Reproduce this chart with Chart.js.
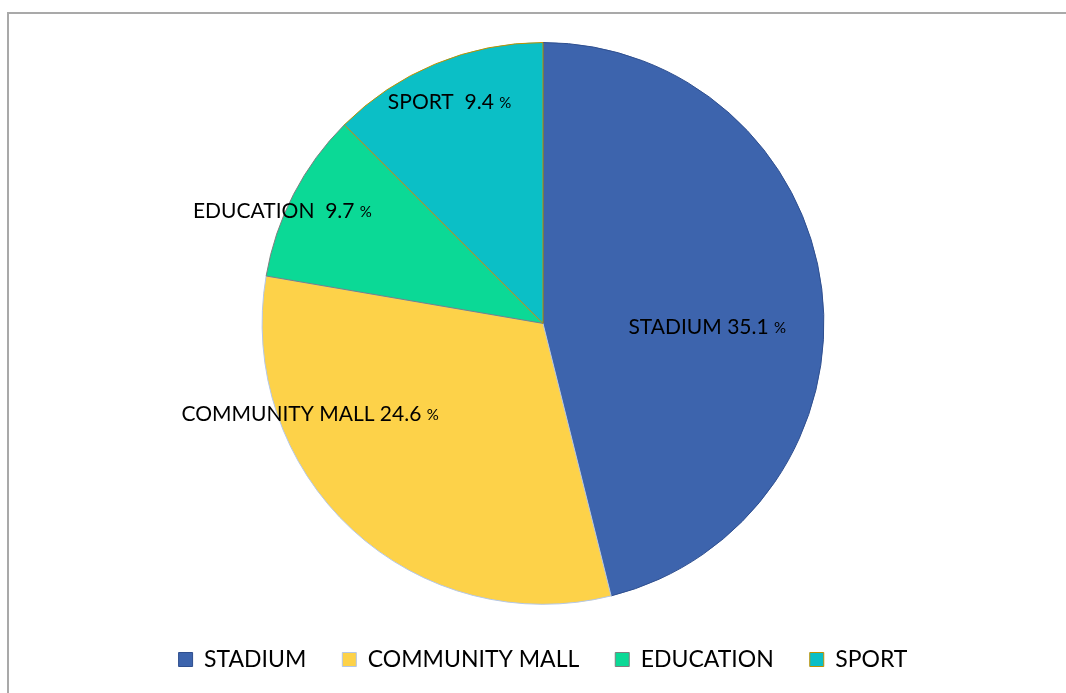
<!DOCTYPE html>
<html>
<head>
<meta charset="utf-8">
<script src="https://cdn.jsdelivr.net/npm/chart.js@4.4.0/dist/chart.umd.min.js"></script>
<style>
  html, body { margin:0; padding:0; background:#fff; overflow:hidden; }
  #frame { position:absolute; left:7px; top:12px; width:1100px; height:740px;
           border-top:2px solid #a9a9a9; border-left:2px solid #a9a9a9; }
  #wrap { position:absolute; left:0; top:0; width:1068px; height:667px; }
</style>
</head>
<body>
<div id="frame"><div id="wrap"><canvas id="pie"></canvas></div></div>
<script>
// ----- data -----
const categories = ['STADIUM', 'COMMUNITY MALL', 'EDUCATION', 'SPORT'];
const shares = [46.1, 31.6, 9.8, 12.5];           // slice sizes as drawn
const labelNames = ['STADIUM 35.1', 'COMMUNITY MALL 24.6', 'EDUCATION  9.7', 'SPORT  9.4'];

// ----- styles -----
const fills = ['#3d64ad', '#fdd249', '#0bd996', '#0bbfc6'];
const strokes = ['#2f4f8f', '#b4c7e7', '#7f7f7f', '#bf9000'];
// label anchor: [angle deg clockwise from top, fraction of radius]
const labelPos = [[91.4, 0.585], [248.7, 0.89], [293.3, 1.01], [337.1, 0.855]];
const FONT = 'Lato, "Open Sans", sans-serif';

const sliceLabels = {
  id: 'sliceLabels',
  afterDatasetsDraw(chart){
    const ctx = chart.ctx;
    const arcs = chart.getDatasetMeta(0).data;
    if (!arcs.length) return;
    const cx = arcs[0].x, cy = arcs[0].y, r = arcs[0].outerRadius;
    ctx.save();
    ctx.fillStyle = '#000';
    ctx.textBaseline = 'middle';
    ctx.textAlign = 'left';
    labelNames.forEach((txt, i) => {
      const a = labelPos[i][0] * Math.PI/180;
      const x = cx + Math.sin(a) * r * labelPos[i][1];
      const y = cy - Math.cos(a) * r * labelPos[i][1];
      ctx.font = '21px ' + FONT;
      const w1 = ctx.measureText(txt + ' ').width;
      ctx.font = '15px ' + FONT;
      const w2 = ctx.measureText('%').width;
      const x0 = x - (w1 + w2)/2;
      ctx.font = '21px ' + FONT;
      ctx.fillText(txt + ' ', x0, y);
      ctx.font = '15px ' + FONT;
      ctx.fillText('%', x0 + w1, y + 1);
    });
    ctx.restore();
  }
};

new Chart(document.getElementById('pie'), {
  type: 'pie',
  data: {
    labels: categories,
    datasets: [{ data: shares, backgroundColor: fills, borderColor: strokes, borderWidth: 1 }]
  },
  options: {
    responsive: true, maintainAspectRatio: false, animation: false,
    layout: { padding: { top: 28, bottom: 0 } },
    plugins: {
      tooltip: { enabled: false },
      legend: {
        position: 'bottom',
        title: { display: true, text: '', font: { size: 1 }, padding: { top: 6, bottom: 0 } },
        labels: { boxWidth: 14, boxHeight: 14, padding: 36, color: '#000',
                  font: { size: 23, family: FONT } }
      }
    }
  },
  plugins: [sliceLabels]
});
</script>
</body>
</html>
